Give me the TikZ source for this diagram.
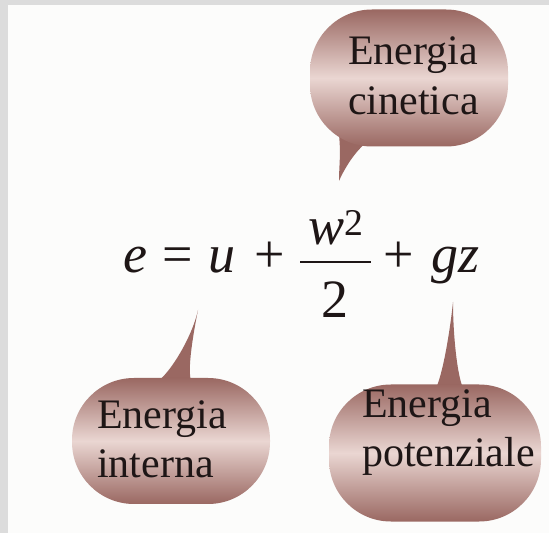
\documentclass[tikz,border=0pt]{standalone}
\usepackage{fontspec}
\setmainfont{Liberation Serif}
\usetikzlibrary{calc,backgrounds}
\definecolor{frame}{HTML}{DCDCDC}
\definecolor{paper}{HTML}{FCFCFB}
\definecolor{bubdark}{HTML}{9A6862}
\definecolor{bublight}{HTML}{EAD6D2}
\definecolor{ink}{HTML}{1E1616}

\begin{document}
\begin{tikzpicture}[x=1pt,y=1pt,
   bubble/.style={rectangle,rounded corners=62pt,top color=bubdark,bottom color=bubdark,middle color=bublight,inner sep=0pt},
   word/.style={align=left,text=ink,font=\fontsize{42}{50}\selectfont,inner sep=0pt},
   term/.style={text=ink,font=\fontsize{54}{60}\selectfont,inner sep=0pt},
   tail/.style={fill=bubdark}]
\useasboundingbox (0,0) rectangle (549,533);
% equation e = u + w^2/2 + gz
\node[term,anchor=base west] (lhs) at (123,260) {\textit{e}\hspace{15pt}=\hspace{16pt}\textit{u}\hspace{19pt}+};
\node[term,anchor=base] (num) at (336,288) {\textit{w}\textsuperscript{2}};
\node[term,anchor=base] (den) at (335,215) {2};
\draw[ink,line width=2pt] (300,271) -- (371,271);
\node[term,anchor=base west] (rhs) at (383,260) {+\hspace{18pt}\textit{gz}};
% bubbles
\node[bubble,minimum width=198pt,minimum height=137pt] (cinb) at (409,455) {};
\node[bubble,minimum width=198pt,minimum height=126pt] (intb) at (171,92) {};
\node[bubble,minimum width=212pt,minimum height=137pt] (potb) at (435,80) {};
\node[word,anchor=base west] (cin) at (348,418) {Energia\\cinetica};
\node[word,anchor=base west] (int) at (97,55) {Energia\\interna};
\node[word,anchor=base west] (pot) at (362,66) {Energia\\potenziale};
% tips of the tails
\coordinate (cintip) at (339,352);
\coordinate (inttip) at (198,223);
\coordinate (pottip) at (453,231);
\begin{scope}[on background layer]
  \fill[frame] (0,0) rectangle (549,533);
  \fill[paper] (8,0) rectangle (549,528);
  \fill[tail] ($(cinb.south)+(-70,12)$) .. controls +(2,-20) and +(0,15) .. (cintip)
     .. controls +(6,14) and +(-14,-6) .. ($(cinb.south)+(-36,8)$) -- cycle;
  \fill[tail] ($(intb.north)+(-20,-8)$) .. controls +(16,6) and +(-6,-28) .. (inttip)
     .. controls +(-8,-40) and +(-6,4) .. ($(intb.north)+(22,-6)$) -- cycle;
  \fill[tail] ($(potb.north)+(-2,-8)$) .. controls +(8,6) and +(-3,-30) .. (pottip)
     .. controls +(0,-40) and +(-6,3) .. ($(potb.north)+(30,-6)$) -- cycle;
\end{scope}
\end{tikzpicture}
\end{document}
